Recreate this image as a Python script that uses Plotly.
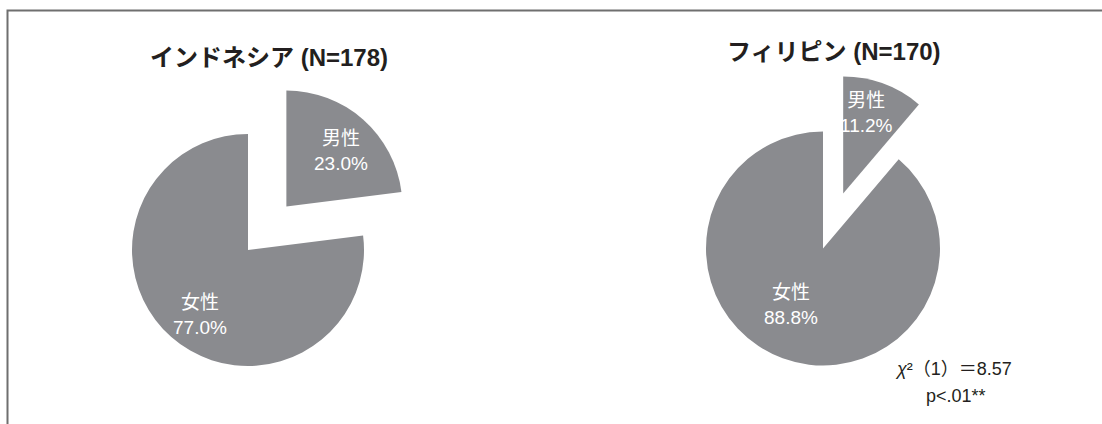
import plotly.graph_objects as go

# Survey respondents by sex, per country
countries = ["インドネシア", "フィリピン"]
sample_sizes = [178, 170]
sexes = ["男性", "女性"]
indonesia_pct = [23.0, 77.0]
philippines_pct = [11.2, 88.8]
chi_square = 8.57
chi_dof = 1
p_label = "p<.01**"

W, H = 1102, 424
SLICE_GRAY = "#8a8b8f"
TEXT_DARK = "#231f20"
LATIN_CJK = "Liberation Sans, Noto Sans CJK JP, sans-serif"


def px_x(x):
    return x / W


def px_y(y):
    return 1 - y / H


def pie(values, cx, half):
    return go.Pie(
        labels=sexes,
        values=values,
        sort=False,
        direction="clockwise",
        rotation=0,
        pull=[0.5, 0],
        marker=dict(colors=[SLICE_GRAY, SLICE_GRAY], line=dict(width=0)),
        textinfo="none",
        hoverinfo="label+percent",
        showlegend=False,
        domain=dict(x=[px_x(cx - half), px_x(cx + half)], y=[0, 2 * half / H]),
    )


fig = go.Figure()
fig.add_trace(pie(indonesia_pct, 248, 174))
fig.add_trace(pie(philippines_pct, 823, 175.5))

annotations = []

# Chart titles
title_pos = [(269, 57), (834, 52)]
for name, n, (tx, ty) in zip(countries, sample_sizes, title_pos):
    annotations.append(dict(
        text=f"<b>{name} (N={n})</b>",
        x=px_x(tx), y=px_y(ty), xref="paper", yref="paper",
        xanchor="center", yanchor="middle", showarrow=False,
        font=dict(family=LATIN_CJK, size=24, color=TEXT_DARK),
    ))

# Slice labels (sex + share)
label_pos = [
    [(341, 151), (200, 315)],
    [(866, 113), (791, 305)],
]
for values, positions in zip([indonesia_pct, philippines_pct], label_pos):
    for sex, v, (lx, ly) in zip(sexes, values, positions):
        annotations.append(dict(
            text=f"{sex}<br>{v:.1f}%",
            x=px_x(lx), y=px_y(ly), xref="paper", yref="paper",
            xanchor="center", yanchor="middle", showarrow=False,
            font=dict(family=LATIN_CJK, size=19, color="white"),
        ))

# Chi-square test result
annotations.append(dict(
    text=f"<i>χ</i>²（{chi_dof}）＝{chi_square:.2f}",
    x=px_x(953), y=px_y(369), xref="paper", yref="paper",
    xanchor="center", yanchor="middle", showarrow=False,
    font=dict(family=LATIN_CJK, size=18, color=TEXT_DARK),
))
annotations.append(dict(
    text=p_label,
    x=px_x(956), y=px_y(396), xref="paper", yref="paper",
    xanchor="center", yanchor="middle", showarrow=False,
    font=dict(family=LATIN_CJK, size=18, color=TEXT_DARK),
))

fig.update_layout(
    width=W, height=H,
    margin=dict(l=0, r=0, t=0, b=0),
    paper_bgcolor="white",
    plot_bgcolor="white",
    annotations=annotations,
    shapes=[dict(
        type="rect", xref="paper", yref="paper",
        x0=px_x(7.5), x1=1.05, y0=-0.05, y1=px_y(10.5),
        line=dict(color="#6f6f6f", width=2), fillcolor="rgba(0,0,0,0)",
        layer="above",
    )],
)

fig.write_html("out.html")
